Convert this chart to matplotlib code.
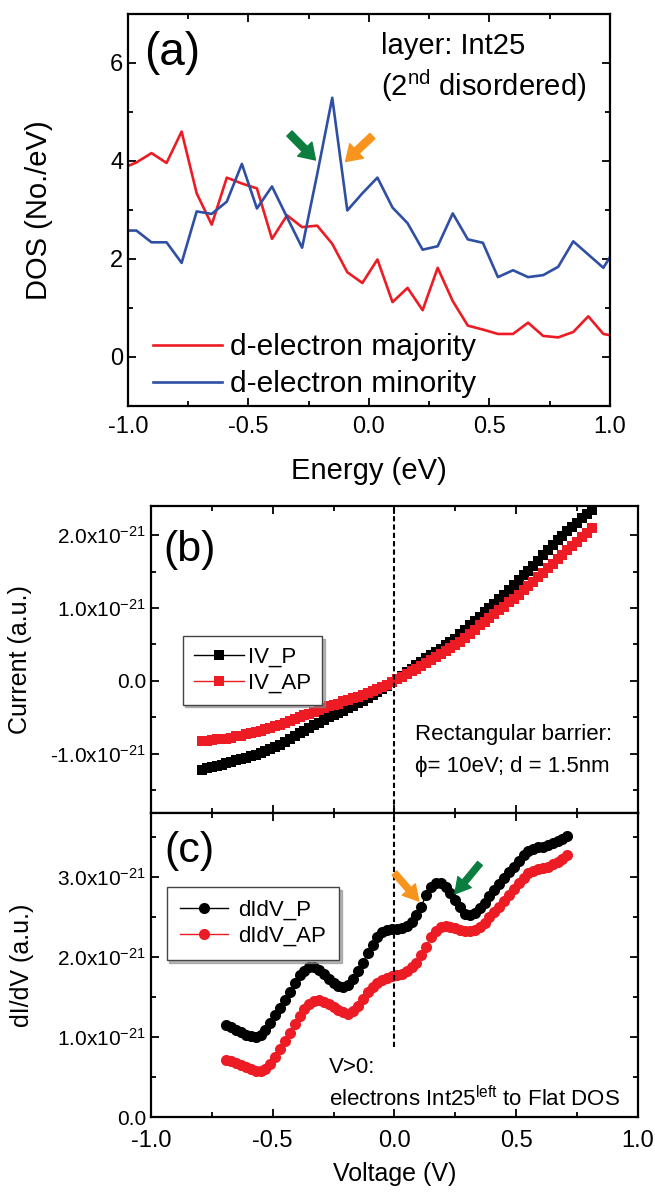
import matplotlib
matplotlib.use("Agg")
import matplotlib.pyplot as plt
from matplotlib.ticker import MultipleLocator, FuncFormatter

plt.rcParams['font.family'] = ['Liberation Sans', 'DejaVu Sans']
plt.rcParams['mathtext.fontset'] = 'custom'
plt.rcParams['mathtext.rm'] = 'Liberation Sans'
plt.rcParams['mathtext.it'] = 'Liberation Sans:italic'
plt.rcParams['axes.unicode_minus'] = False

# (a) d-electron DOS of layer Int25
energy = [-1.0275, -0.965, -0.9025, -0.84, -0.7775, -0.715, -0.6525, -0.59, -0.5275,
          -0.465, -0.4025, -0.34, -0.2775, -0.215, -0.1525, -0.09, -0.0275, 0.035,
          0.0975, 0.16, 0.2225, 0.285, 0.3475, 0.41, 0.4725, 0.535, 0.5975, 0.66,
          0.7225, 0.785, 0.8475, 0.91, 0.9725, 1.035]
dos_major = [3.84, 3.97, 4.16, 3.96, 4.60, 3.34, 2.70, 3.66, 3.54, 3.44, 2.41, 2.89,
             2.65, 2.68, 2.31, 1.73, 1.51, 1.99, 1.12, 1.41, 0.955, 1.82, 1.14, 0.64,
             0.56, 0.47, 0.47, 0.70, 0.43, 0.40, 0.51, 0.83, 0.47, 0.41]
dos_minor = [2.58, 2.58, 2.34, 2.34, 1.92, 2.97, 2.92, 3.17, 3.94, 3.03, 3.48, 2.85,
             2.23, 3.73, 5.29, 2.99, 3.34, 3.66, 3.05, 2.73, 2.19, 2.26, 2.93, 2.40,
             2.33, 1.63, 1.77, 1.63, 1.67, 1.84, 2.36, 2.09, 1.82, 2.32]

# (b) I-V, units of 1e-21
volt_iv = [-0.79, -0.77, -0.75, -0.73, -0.71, -0.69, -0.67, -0.65, -0.63, -0.61,
           -0.59, -0.57, -0.55, -0.53, -0.51, -0.49, -0.47, -0.45, -0.43, -0.41,
           -0.39, -0.37, -0.35, -0.33, -0.31, -0.29, -0.27, -0.25, -0.23, -0.21,
           -0.19, -0.17, -0.15, -0.13, -0.11, -0.09, -0.07, -0.05, -0.03, -0.01,
           0.01, 0.03, 0.05, 0.07, 0.09, 0.11, 0.13, 0.15, 0.17, 0.19,
           0.21, 0.23, 0.25, 0.27, 0.29, 0.31, 0.33, 0.35, 0.37, 0.39,
           0.41, 0.43, 0.45, 0.47, 0.49, 0.51, 0.53, 0.55, 0.57, 0.59,
           0.61, 0.63, 0.65, 0.67, 0.69, 0.71, 0.73, 0.75, 0.77, 0.79, 0.81]
iv_p = [-1.22, -1.20, -1.18, -1.17, -1.15, -1.13, -1.11, -1.09, -1.07, -1.05,
        -1.03, -1.01, -0.99, -0.96, -0.93, -0.91, -0.88, -0.84, -0.80, -0.76,
        -0.72, -0.69, -0.65, -0.61, -0.57, -0.54, -0.50, -0.47, -0.44, -0.41,
        -0.37, -0.34, -0.30, -0.27, -0.23, -0.19, -0.15, -0.11, -0.07, -0.02,
        0.02, 0.07, 0.12, 0.17, 0.22, 0.26, 0.31, 0.35, 0.40, 0.44,
        0.49, 0.53, 0.58, 0.64, 0.70, 0.76, 0.82, 0.88, 0.94, 1.00,
        1.06, 1.12, 1.18, 1.24, 1.31, 1.38, 1.45, 1.51, 1.58, 1.65,
        1.72, 1.79, 1.86, 1.93, 1.99, 2.05, 2.11, 2.17, 2.23, 2.29, 2.35]
iv_ap = [-0.83, -0.82, -0.81, -0.80, -0.79, -0.79, -0.78, -0.76, -0.75, -0.73,
         -0.72, -0.70, -0.68, -0.66, -0.64, -0.62, -0.60, -0.57, -0.55, -0.52,
         -0.50, -0.47, -0.45, -0.42, -0.40, -0.37, -0.35, -0.33, -0.31, -0.28,
         -0.26, -0.24, -0.22, -0.19, -0.17, -0.14, -0.11, -0.08, -0.05, -0.02,
         0.02, 0.06, 0.09, 0.13, 0.17, 0.21, 0.25, 0.29, 0.33, 0.37,
         0.41, 0.45, 0.49, 0.54, 0.59, 0.65, 0.70, 0.76, 0.81, 0.86,
         0.92, 0.97, 1.02, 1.08, 1.13, 1.18, 1.24, 1.30, 1.36, 1.42,
         1.48, 1.55, 1.61, 1.67, 1.73, 1.79, 1.85, 1.91, 1.97, 2.03, 2.09]

# (c) dI/dV, units of 1e-21
volt_didv = [-0.69, -0.67, -0.65, -0.63, -0.61, -0.59, -0.57, -0.55, -0.53, -0.51,
             -0.49, -0.47, -0.45, -0.43, -0.41, -0.39, -0.37, -0.35, -0.33, -0.31,
             -0.29, -0.27, -0.25, -0.23, -0.21, -0.19, -0.17, -0.15, -0.13, -0.11,
             -0.09, -0.07, -0.05, -0.03, -0.01, 0.01, 0.03, 0.05, 0.07, 0.09,
             0.11, 0.13, 0.15, 0.17, 0.19, 0.21, 0.23, 0.25, 0.27, 0.29,
             0.31, 0.33, 0.35, 0.37, 0.39, 0.41, 0.43, 0.45, 0.47, 0.49,
             0.51, 0.53, 0.55, 0.57, 0.59, 0.61, 0.63, 0.65, 0.67, 0.69, 0.71]
didv_p = [1.15, 1.12, 1.09, 1.06, 1.03, 1.01, 1.00, 1.03, 1.09, 1.17,
          1.27, 1.36, 1.46, 1.56, 1.68, 1.77, 1.83, 1.87, 1.87, 1.84,
          1.79, 1.73, 1.68, 1.64, 1.62, 1.65, 1.72, 1.82, 1.93, 2.05,
          2.15, 2.25, 2.31, 2.34, 2.35, 2.35, 2.36, 2.39, 2.44, 2.52,
          2.63, 2.78, 2.87, 2.92, 2.92, 2.87, 2.80, 2.71, 2.62, 2.54,
          2.52, 2.55, 2.61, 2.68, 2.76, 2.84, 2.91, 2.99, 3.06, 3.13,
          3.20, 3.27, 3.32, 3.35, 3.37, 3.38, 3.40, 3.42, 3.45, 3.48, 3.51]
didv_ap = [0.71, 0.70, 0.68, 0.65, 0.62, 0.60, 0.58, 0.57, 0.60, 0.66,
           0.75, 0.85, 0.95, 1.05, 1.16, 1.26, 1.35, 1.41, 1.45, 1.46,
           1.44, 1.41, 1.38, 1.34, 1.31, 1.29, 1.32, 1.39, 1.48, 1.56,
           1.62, 1.67, 1.71, 1.74, 1.76, 1.77, 1.79, 1.82, 1.87, 1.93,
           2.02, 2.13, 2.25, 2.33, 2.38, 2.39, 2.38, 2.36, 2.34, 2.32,
           2.32, 2.34, 2.37, 2.43, 2.50, 2.56, 2.63, 2.70, 2.77, 2.85,
           2.92, 2.99, 3.05, 3.08, 3.10, 3.11, 3.13, 3.16, 3.19, 3.23, 3.27]

RED = '#ed1c24'
BLUE = '#2e4fa3'
GREEN = '#0b7d3e'
ORANGE = '#f7941d'


def style_axes(ax, tick_size):
    for s in ax.spines.values():
        s.set_linewidth(1.6)
    ax.tick_params(which='both', direction='in', top=True, right=True,
                   width=1.3, labelsize=tick_size)
    ax.tick_params(which='major', length=5.5)
    ax.tick_params(which='minor', length=3.5)


def sci_fmt(v, pos):
    if abs(v) < 1e-9:
        return '0.0'
    return r'%.1fx10$^{\mathregular{-21}}$' % v


def arrow(ax, tail, tip, color, head_w, tail_w):
    style = 'simple,head_length=0.55,head_width=%.2f,tail_width=%.2f' % (head_w, tail_w)
    ax.annotate('', xy=tip, xytext=tail,
                arrowprops=dict(arrowstyle=style, color=color, shrinkA=0, shrinkB=0,
                                mutation_scale=20))


fig = plt.figure(figsize=(6.55, 11.92), dpi=100)

# ---- (a)
ax_a = fig.add_axes([0.1954, 0.6594, 0.7359, 0.3289])
ax_a.plot(energy, dos_major, color=RED, lw=1.9, label='d-electron majority')
ax_a.plot(energy, dos_minor, color=BLUE, lw=1.9, label='d-electron minority')
ax_a.set_xlim(-1, 1)
ax_a.set_ylim(-1, 7)
ax_a.xaxis.set_major_locator(MultipleLocator(0.5))
ax_a.xaxis.set_minor_locator(MultipleLocator(0.25))
ax_a.yaxis.set_major_locator(MultipleLocator(2))
ax_a.yaxis.set_minor_locator(MultipleLocator(1))
ax_a.xaxis.set_major_formatter(FuncFormatter(lambda v, p: '%.1f' % v))
ax_a.yaxis.set_major_formatter(FuncFormatter(lambda v, p: '%d' % v))
style_axes(ax_a, 17)
ax_a.tick_params(axis='x', pad=7)
ax_a.set_ylabel('DOS (No./eV)', fontsize=21)
ax_a.yaxis.set_label_coords(-0.155, 0.5)
ax_a.set_xlabel('Energy (eV)', fontsize=21)
ax_a.xaxis.set_label_coords(0.5, -0.13)
ax_a.text(0.091, 0.90, '(a)', transform=ax_a.transAxes, fontsize=33,
          ha='center', va='center')
ax_a.text(0.049, 6.18, 'layer: Int25', fontsize=21, va='baseline')
ax_a.text(0.049, 5.33, r'(2$^{\mathregular{nd}}$ disordered)', fontsize=21, va='baseline')
arrow(ax_a, (-0.33, 4.56), (-0.222, 4.02), GREEN, 0.72, 0.26)
arrow(ax_a, (0.014, 4.51), (-0.097, 3.99), ORANGE, 0.72, 0.26)
ax_a.legend(loc='upper left', bbox_to_anchor=(0.0525, 0.185), frameon=False,
            fontsize=21.5, handlelength=2.29, handletextpad=0.28,
            labelspacing=0.3, borderpad=0, borderaxespad=0)

# ---- (b)
ax_b = fig.add_axes([0.2305, 0.3180, 0.7435, 0.2576])
ax_b.plot(volt_iv, iv_p, color='black', lw=1, marker='s', ms=7.5, mec='black',
          mfc='black', mew=0, label='IV_P')
ax_b.plot(volt_iv, iv_ap, color=RED, lw=1, marker='s', ms=7.5, mec=RED,
          mfc=RED, mew=0, label='IV_AP')
ax_b.axvline(0, color='black', lw=1.5, ls=(0, (2.5, 1.5)))
ax_b.set_xlim(-1, 1)
ax_b.set_ylim(-1.81, 2.4)
ax_b.xaxis.set_major_locator(MultipleLocator(0.5))
ax_b.xaxis.set_minor_locator(MultipleLocator(0.25))
ax_b.yaxis.set_major_locator(MultipleLocator(1))
ax_b.yaxis.set_minor_locator(MultipleLocator(0.5))
ax_b.yaxis.set_major_formatter(FuncFormatter(sci_fmt))
style_axes(ax_b, 15)
ax_b.tick_params(labelbottom=False)
ax_b.set_ylabel('Current (a.u.)', fontsize=18)
ax_b.yaxis.set_label_coords(-0.244, 0.5)
ax_b.text(0.080, 0.857, '(b)', transform=ax_b.transAxes, fontsize=31,
          ha='center', va='center')
ax_b.text(0.086, -0.81, 'Rectangular barrier:', fontsize=16, va='baseline')
ax_b.text(0.086, -1.25, '\u03d5= 10eV; d = 1.5nm', fontsize=16, va='baseline')
leg = ax_b.legend(loc='upper left', bbox_to_anchor=(0.065, 0.5765), fontsize=16,
                  handlelength=2.28, handletextpad=0.15, borderpad=0.5,
                  labelspacing=0.2, borderaxespad=0, fancybox=False, framealpha=1,
                  shadow={'color': '#888888', 'alpha': 0.6})
leg.get_frame().set_edgecolor('#444444')
leg.get_frame().set_linewidth(1.0)

# ---- (c)
ax_c = fig.add_axes([0.2305, 0.0629, 0.7435, 0.2550])
ax_c.plot(volt_didv, didv_p, color='black', lw=1, marker='o', ms=8, mec='black',
          mfc='black', mew=0, label='dIdV_P')
ax_c.plot(volt_didv, didv_ap, color=RED, lw=1, marker='o', ms=8, mec=RED,
          mfc=RED, mew=0, label='dIdV_AP')
ax_c.set_xlim(-1, 1)
ax_c.set_ylim(0, 3.8)
ax_c.axvline(0, ymin=0.88 / 3.8, color='black', lw=1.5, ls=(0, (2.5, 1.5)))
ax_c.xaxis.set_major_locator(MultipleLocator(0.5))
ax_c.xaxis.set_minor_locator(MultipleLocator(0.25))
ax_c.yaxis.set_major_locator(MultipleLocator(1))
ax_c.yaxis.set_minor_locator(MultipleLocator(0.5))
ax_c.yaxis.set_major_formatter(FuncFormatter(sci_fmt))
ax_c.xaxis.set_major_formatter(FuncFormatter(lambda v, p: '%.1f' % v))
style_axes(ax_c, 15)
ax_c.tick_params(axis='x', labelsize=17, pad=9)
ax_c.set_ylabel('dI/dV (a.u.)', fontsize=18)
ax_c.yaxis.set_label_coords(-0.24, 0.5)
ax_c.set_xlabel('Voltage (V)', fontsize=18)
ax_c.xaxis.set_label_coords(0.5, -0.148)
ax_c.text(0.078, 0.875, '(c)', transform=ax_c.transAxes, fontsize=31,
          ha='center', va='center')
ax_c.text(-0.27, 0.55, 'V>0:', fontsize=16, va='baseline')
ax_c.text(-0.27, 0.13, r'electrons Int25$^{\mathregular{left}}$ to Flat DOS',
          fontsize=16, va='baseline')
arrow(ax_c, (0.0, 3.05), (0.10, 2.70), ORANGE, 0.62, 0.22)
arrow(ax_c, (0.351, 3.17), (0.248, 2.79), GREEN, 0.62, 0.22)
leg = ax_c.legend(loc='upper left', bbox_to_anchor=(0.032, 0.7576), fontsize=16,
                  handlelength=2.17, handletextpad=0.45, borderpad=0.6,
                  labelspacing=0.2, borderaxespad=0, fancybox=False, framealpha=1,
                  shadow={'color': '#888888', 'alpha': 0.6})
leg.get_frame().set_edgecolor('#444444')
leg.get_frame().set_linewidth(1.0)

fig.savefig('out.png', dpi=100)
